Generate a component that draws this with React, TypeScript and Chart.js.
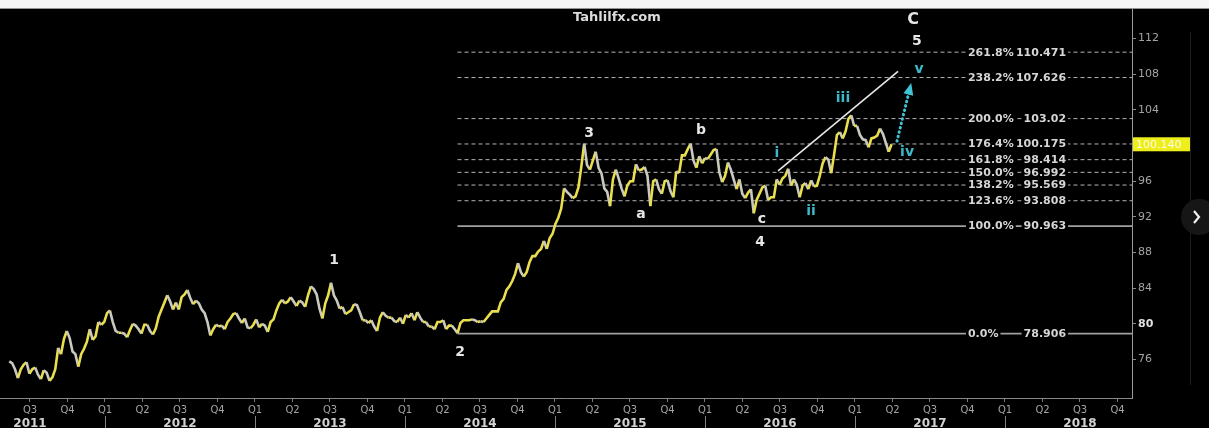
import React, { useEffect, useRef } from 'react';
import { Chart, registerables } from 'chart.js';

Chart.register(...registerables);

// ---------- DATA ----------
// Weekly closes, first week ends Friday 13 May 2011
const FIRST_WEEK_UTC = Date.UTC(2011, 4, 13);
const WEEK_MS = 7 * 86400000;

const close2011 = [75.8, 75.6, 74.9, 73.9, 74.9, 75.4, 75.7, 74.4, 74.9, 75.1, 74.3, 73.8, 74.8, 74.5, 73.6, 74.0, 74.9, 77.3, 76.6, 78.3, 79.2, 78.4, 76.9, 76.6, 75.2, 76.6, 77.2, 78.0, 79.4, 78.2, 78.6, 80.2, 79.9, 80.2];
const close2012 = [81.2, 81.5, 80.2, 79.2, 79.0, 79.0, 78.9, 78.5, 79.3, 80.0, 79.8, 79.4, 78.9, 79.9, 79.9, 79.2, 78.8, 79.5, 80.8, 81.6, 82.4, 83.2, 82.5, 81.6, 82.4, 81.6, 83.0, 83.3, 83.8, 82.9, 82.2, 82.6, 82.3, 81.6, 81.2, 80.2, 78.7, 79.4, 79.9, 79.7, 79.8, 79.4, 80.2, 80.6, 81.1, 81.2, 80.6, 80.1, 80.6, 79.6, 79.5, 79.9];
const close2013 = [80.5, 79.6, 80.0, 79.8, 79.1, 80.2, 80.5, 81.5, 82.3, 82.7, 82.3, 82.5, 83.0, 82.5, 82.0, 82.6, 82.4, 81.9, 83.2, 84.2, 83.9, 83.3, 81.7, 80.6, 82.3, 83.2, 84.6, 83.2, 82.6, 81.7, 81.9, 81.1, 81.3, 81.5, 82.2, 82.1, 81.3, 80.4, 80.4, 80.1, 80.4, 79.7, 79.2, 80.7, 81.3, 80.9, 80.7, 80.7, 80.3, 80.2, 80.7, 80.0];
const close2014 = [81.0, 80.7, 81.2, 80.4, 81.3, 80.7, 80.2, 80.2, 79.7, 79.7, 79.4, 80.2, 80.2, 80.4, 79.4, 79.8, 79.8, 79.4, 78.95, 80.1, 80.4, 80.4, 80.4, 80.5, 80.4, 80.2, 80.3, 80.2, 80.6, 81.0, 81.4, 81.4, 81.4, 82.4, 82.8, 83.8, 84.2, 84.8, 85.6, 86.8, 85.8, 85.3, 85.8, 86.9, 87.6, 87.6, 88.1, 88.4, 89.3, 88.4, 89.6, 90.1];
const close2015 = [91.2, 91.9, 92.9, 95.2, 94.8, 94.5, 94.1, 94.3, 95.3, 97.6, 100.2, 97.8, 97.3, 98.3, 99.3, 97.5, 96.9, 95.2, 94.8, 93.2, 96.2, 97.3, 96.3, 95.2, 94.3, 95.5, 96.0, 96.0, 97.9, 97.2, 97.3, 97.6, 96.6, 93.2, 96.0, 96.2, 95.1, 94.6, 96.0, 96.1, 94.9, 94.2, 97.1, 96.9, 98.9, 98.9, 99.6, 100.2, 98.3, 97.5, 98.8, 98.0];
const close2016 = [98.6, 98.5, 99.0, 99.5, 99.6, 97.0, 95.9, 96.6, 98.1, 97.3, 96.2, 95.1, 96.2, 94.6, 94.1, 94.7, 95.1, 92.4, 93.9, 94.6, 95.3, 95.5, 93.9, 94.2, 94.2, 96.2, 95.6, 96.3, 96.6, 97.4, 95.5, 96.2, 95.6, 94.2, 95.5, 95.8, 95.1, 96.1, 95.4, 95.5, 96.6, 98.0, 98.7, 98.4, 96.9, 99.0, 101.2, 101.5, 100.8, 101.6, 103.0, 103.4, 102.2];
const close2017 = [102.2, 101.2, 100.7, 100.6, 99.8, 100.8, 100.9, 101.1, 101.9, 101.3, 100.3, 99.3, 100.14];

const weeklyCloses = [...close2011, ...close2012, ...close2013, ...close2014, ...close2015, ...close2016, ...close2017];
const lastPriceLabel = '100.140';

// axis
const xMin = 2011.3;
const xMax = 2018.8467;
const yMin = 71.68;
const yMax = 115.36;
const quarterTickValues = [2011.5, 2011.75, 2012, 2012.25, 2012.5, 2012.75, 2013, 2013.25, 2013.5, 2013.75, 2014, 2014.25, 2014.5, 2014.75, 2015, 2015.25, 2015.5, 2015.75, 2016, 2016.25, 2016.5, 2016.75, 2017, 2017.25, 2017.5, 2017.75, 2018, 2018.25, 2018.5, 2018.75];
const quarterNames = ['Q1', 'Q2', 'Q3', 'Q4'];
const yearNames = ['2011', '2012', '2013', '2014', '2015', '2016', '2017', '2018'];
const yTickValues = [76, 80, 84, 88, 92, 96, 100, 104, 108, 112];

// Fibonacci levels
const fibPct = ['261.8%', '238.2%', '200.0%', '176.4%', '161.8%', '150.0%', '138.2%', '123.6%', '100.0%', '0.0%'];
const fibLevel = [110.471, 107.626, 103.02, 100.175, 98.414, 96.992, 95.569, 93.808, 90.963, 78.906];
const fibSolid = [false, false, false, false, false, false, false, false, true, true];
const fibStartT = 2014.35;
const fibLabelT = 2017.753;
const fibValueEndT = 2018.407;

// trend line and projection arrow
const trendT = [2016.487, 2017.287];
const trendV = [97.15, 108.32];
const arrowT = [2017.28, 2017.37];
const arrowV = [100.5, 106.7];

// wave labels
const waveLabels = ['C', '5', '1', '2', '3', '4', 'a', 'b', 'c'];
const waveT = [2017.387, 2017.413, 2013.527, 2014.367, 2015.227, 2016.367, 2015.573, 2015.973, 2016.38];
const waveV = [114.14, 111.68, 87.09, 76.8, 101.4, 89.11, 92.23, 101.73, 91.68];
const subWaveLabels = ['i', 'ii', 'iii', 'iv', 'v'];
const subWaveT = [2016.48, 2016.707, 2016.92, 2017.347, 2017.427];
const subWaveV = [99.16, 92.57, 105.31, 99.27, 108.55];

const titleText = 'Tahlilfx.com';
const titleT = 2015.413;
const titleV = 114.36;

// ---------- helpers ----------
function decimalYear(ms: number) {
  const d = new Date(ms);
  const y = d.getUTCFullYear();
  const s = Date.UTC(y, 0, 1);
  const e = Date.UTC(y + 1, 0, 1);
  return y + (ms - s) / (e - s);
}

const pricePoints = weeklyCloses.map((v, i) => ({ x: decimalYear(FIRST_WEEK_UTC + i * WEEK_MS), y: v }));

const YELLOW = '#e8de4e';
const DOWN = '#c9c9c0';
const CYAN = '#3cb8c8';

const bgPlugin = {
  id: 'bgPlugin',
  beforeDraw(chart: any) {
    const { ctx, width, height, chartArea } = chart;
    ctx.save();
    ctx.fillStyle = '#000000';
    ctx.fillRect(0, 0, width, height);
    ctx.fillStyle = '#f5f5f5';
    ctx.fillRect(0, 0, width, chartArea.top);
    ctx.strokeStyle = '#1c1c1c';
    ctx.lineWidth = 1;
    ctx.beginPath();
    ctx.moveTo(1190.5, 32);
    ctx.lineTo(1190.5, 385);
    ctx.stroke();
    ctx.restore();
  },
};

const overlayPlugin = {
  id: 'overlayPlugin',
  afterDraw(chart: any) {
    const { ctx, scales, chartArea } = chart;
    const xs = scales.x;
    const ys = scales.y;
    ctx.save();

    // fib labels
    ctx.font = 'bold 11px "DejaVu Sans"';
    ctx.textBaseline = 'middle';
    fibLevel.forEach((lvl, i) => {
      const y = ys.getPixelForValue(lvl);
      const x0 = xs.getPixelForValue(fibLabelT);
      const x1 = xs.getPixelForValue(fibValueEndT);
      const pct = fibPct[i];
      const val = String(lvl);
      const wp = ctx.measureText(pct).width;
      const wv = ctx.measureText(val).width;
      ctx.fillStyle = '#000';
      ctx.fillRect(x0 - 2, y - 6, wp + 4, 12);
      ctx.fillRect(x1 - wv - 2, y - 6, wv + 4, 12);
      ctx.fillStyle = '#d6d6d6';
      ctx.textAlign = 'left';
      ctx.fillText(pct, x0, y + 0.5);
      ctx.textAlign = 'right';
      ctx.fillText(val, x1, y + 0.5);
    });

    // wave labels
    ctx.textAlign = 'center';
    ctx.textBaseline = 'middle';
    waveLabels.forEach((t, i) => {
      ctx.font = t === 'C' ? 'bold 16px "DejaVu Sans"' : 'bold 14px "DejaVu Sans"';
      ctx.fillStyle = '#e6e6e6';
      ctx.fillText(t, xs.getPixelForValue(waveT[i]), ys.getPixelForValue(waveV[i]));
    });
    ctx.font = 'bold 14px "DejaVu Sans"';
    subWaveLabels.forEach((t, i) => {
      ctx.fillStyle = CYAN;
      ctx.fillText(t, xs.getPixelForValue(subWaveT[i]), ys.getPixelForValue(subWaveV[i]));
    });

    // title
    ctx.font = 'bold 13px "DejaVu Sans"';
    ctx.fillStyle = '#dcdcdc';
    ctx.fillText(titleText, xs.getPixelForValue(titleT), ys.getPixelForValue(titleV));

    // arrow head
    const ax0 = xs.getPixelForValue(arrowT[0]);
    const ay0 = ys.getPixelForValue(arrowV[0]);
    const ax1 = xs.getPixelForValue(arrowT[1]);
    const ay1 = ys.getPixelForValue(arrowV[1]);
    const ang = Math.atan2(ay1 - ay0, ax1 - ax0);
    const hl = 9;
    ctx.fillStyle = '#3fc4d6';
    ctx.beginPath();
    ctx.moveTo(ax1 + Math.cos(ang) * 3, ay1 + Math.sin(ang) * 3);
    ctx.lineTo(ax1 - Math.cos(ang) * hl + Math.cos(ang + Math.PI / 2) * 5, ay1 - Math.sin(ang) * hl + Math.sin(ang + Math.PI / 2) * 5);
    ctx.lineTo(ax1 - Math.cos(ang) * hl - Math.cos(ang + Math.PI / 2) * 5, ay1 - Math.sin(ang) * hl - Math.sin(ang + Math.PI / 2) * 5);
    ctx.closePath();
    ctx.fill();

    // last price tag
    const lastV = weeklyCloses[weeklyCloses.length - 1];
    const py = ys.getPixelForValue(lastV);
    ctx.fillStyle = '#eeee1a';
    ctx.fillRect(chartArea.right + 1, py - 7, 57, 14);
    ctx.font = '11px "DejaVu Sans"';
    ctx.fillStyle = '#fbfbe8';
    ctx.textAlign = 'left';
    ctx.fillText(lastPriceLabel, chartArea.right + 4, py + 0.5);

    // year labels & separators
    const bottom = chart.height;
    ctx.font = 'bold 12px "DejaVu Sans"';
    ctx.fillStyle = '#d2d2d2';
    ctx.textAlign = 'center';
    ctx.textBaseline = 'top';
    yearNames.forEach((yn) => {
      const yv = Number(yn);
      ctx.fillText(yn, xs.getPixelForValue(yv + 0.5), 418);
      if (yv > 2011) {
        const sx = Math.round(xs.getPixelForValue(yv)) + 0.5;
        ctx.strokeStyle = '#808080';
        ctx.lineWidth = 1;
        ctx.beginPath();
        ctx.moveTo(sx, 416);
        ctx.lineTo(sx, bottom);
        ctx.stroke();
      }
    });

    // right side scroll button
    ctx.fillStyle = '#161616';
    ctx.beginPath();
    ctx.arc(1199, 217, 18, 0, Math.PI * 2);
    ctx.fill();
    ctx.strokeStyle = '#f0f0f0';
    ctx.lineWidth = 2.2;
    ctx.beginPath();
    ctx.moveTo(1194, 211);
    ctx.lineTo(1199, 217);
    ctx.lineTo(1194, 223);
    ctx.stroke();

    ctx.restore();
  },
};

export default function App() {
  const canvasRef = useRef<HTMLCanvasElement | null>(null);

  useEffect(() => {
    document.body.style.margin = '0';
    document.body.style.background = '#000';
    const canvas = canvasRef.current;
    if (!canvas) return;

    const fibDatasets = fibLevel.map((lvl, i) => ({
      type: 'line' as const,
      label: fibPct[i],
      data: [{ x: fibStartT, y: lvl }, { x: xMax, y: lvl }],
      borderColor: fibSolid[i] ? '#a0a0a0' : '#b4b4b4',
      borderWidth: fibSolid[i] ? 1.6 : 1,
      borderDash: fibSolid[i] ? [] : [4, 3],
      pointRadius: 0,
    }));

    const chart = new Chart(canvas, {
      type: 'line',
      data: {
        datasets: [
          {
            label: 'Price',
            data: pricePoints,
            borderColor: YELLOW,
            borderWidth: 2.6,
            borderJoinStyle: 'miter',
            pointRadius: 0,
            tension: 0,
            segment: {
              borderColor: (c: any) => (c.p1.parsed.y < c.p0.parsed.y ? DOWN : YELLOW),
            },
          },
          {
            label: 'Trend',
            data: [{ x: trendT[0], y: trendV[0] }, { x: trendT[1], y: trendV[1] }],
            borderColor: '#e8e8e8',
            borderWidth: 1.6,
            pointRadius: 0,
          },
          {
            label: 'Projection',
            data: [{ x: arrowT[0], y: arrowV[0] }, { x: arrowT[1], y: arrowV[1] }],
            borderColor: '#3fc4d6',
            borderWidth: 3,
            borderDash: [0.5, 4],
            borderCapStyle: 'round',
            pointRadius: 0,
          },
          ...fibDatasets,
        ],
      },
      options: {
        animation: false,
        responsive: false,
        events: [],
        layout: { padding: { top: 7, left: 0, right: 0, bottom: 0 } },
        plugins: {
          legend: { display: false },
          tooltip: { enabled: false },
          title: { display: false },
        },
        scales: {
          x: {
            type: 'linear',
            min: xMin,
            max: xMax,
            afterBuildTicks: (scale: any) => {
              scale.ticks = quarterTickValues.map((v) => ({ value: v }));
            },
            afterFit: (scale: any) => {
              scale.height = 30;
            },
            grid: { display: true, drawOnChartArea: false, drawTicks: true, tickLength: 4, color: '#777' },
            border: { display: true, color: '#8a8a8a', width: 1 },
            ticks: {
              autoSkip: false,
              maxRotation: 0,
              minRotation: 0,
              padding: 2,
              color: '#a4a4a4',
              font: { family: 'DejaVu Sans', size: 10 },
              callback: (v: any) => {
                const q = Math.round((Number(v) % 1) * 4);
                return quarterNames[q];
              },
            },
          },
          y: {
            type: 'linear',
            position: 'right',
            min: yMin,
            max: yMax,
            afterBuildTicks: (scale: any) => {
              scale.ticks = yTickValues.map((v) => ({ value: v }));
            },
            afterFit: (scale: any) => {
              scale.width = 77;
            },
            grid: { display: true, drawOnChartArea: false, drawTicks: true, tickLength: 4, color: '#8a8a8a' },
            border: { display: true, color: '#9a9a9a', width: 1 },
            ticks: {
              padding: 2,
              color: (c: any) => (c.tick && c.tick.value === 80 ? '#e2e2e2' : '#a4a4a4'),
              font: (c: any) => ({
                family: 'DejaVu Sans',
                size: 11,
                weight: c.tick && c.tick.value === 80 ? 'bold' : 'normal',
              }),
              callback: (v: any) => String(v),
            },
          },
        },
      },
      plugins: [bgPlugin, overlayPlugin],
    } as any);

    return () => {
      chart.destroy();
    };
  }, []);

  return (
    <div style={{ width: 1209, height: 428, background: '#000', overflow: 'hidden' }}>
      <canvas ref={canvasRef} width={1209} height={428} style={{ display: 'block' }} />
    </div>
  );
}
